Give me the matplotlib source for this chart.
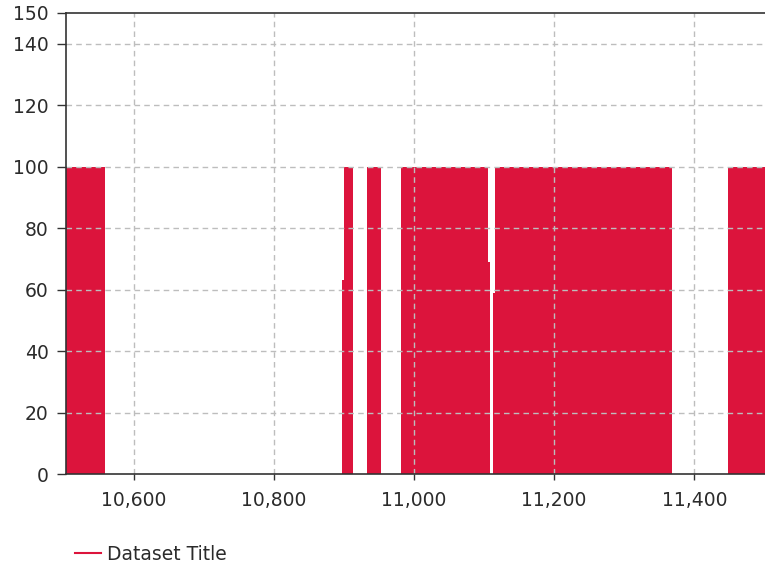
import matplotlib
matplotlib.use("Agg")
import matplotlib.pyplot as plt
from matplotlib.lines import Line2D
from matplotlib.ticker import FuncFormatter

# Step data (value holds from each x until the next x)
x_vals = [10490, 10559, 10897, 10900, 10913, 10933, 10953, 10982, 11105, 11109, 11113, 11116, 11368, 11448, 11510]
y_vals = [100, 0, 63, 100, 0, 100, 0, 100, 69, 0, 59, 100, 0, 100, 100]
series_name = "Dataset Title"
x_ticks = [10600, 10800, 11000, 11200, 11400]
y_ticks = [0, 20, 40, 60, 80, 100, 120, 140, 150]

color = "#DC143C"
text_color = "#2b2b2b"
fs = 13.5

fig = plt.figure(figsize=(7.65, 5.68), dpi=100)
ax = fig.add_axes([66/765, 1 - 474/568, 1 - 66/765, (474 - 13)/568])

ax.fill_between(x_vals, 0, y_vals, step="post", color=color, linewidth=0, zorder=1)

ax.set_xlim(10503, 11501)
ax.set_ylim(0, 150)
ax.set_xticks(x_ticks)
ax.set_yticks(y_ticks)
ax.xaxis.set_major_formatter(FuncFormatter(lambda v, p: f"{int(v):,}"))

ax.set_axisbelow(False)
ax.grid(True, color="#bdbdbd", linestyle=(0, (4, 3)), linewidth=1, zorder=2)
for gl, t in zip(ax.yaxis.get_gridlines(), y_ticks):
    if t in (0, 150):
        gl.set_visible(False)

for s in ["left", "bottom", "top"]:
    ax.spines[s].set_color("#333333")
    ax.spines[s].set_linewidth(1.2)
    ax.spines[s].set_zorder(3)
ax.spines["right"].set_visible(False)

ax.tick_params(axis="both", direction="out", width=1, color="#333333",
               labelsize=fs, labelcolor=text_color)
ax.tick_params(axis="y", length=6.5, pad=6)
ax.tick_params(axis="x", length=4.5, pad=8)

handle = Line2D([0], [0], color=color, linewidth=1.5)
fig.legend([handle], [series_name], loc="center left", bbox_to_anchor=(75/765, 1 - 554/568),
           frameon=False, fontsize=fs, handlelength=1.4, handletextpad=0.3,
           borderpad=0, borderaxespad=0, labelcolor=text_color)

fig.savefig("out.png", dpi=100)
